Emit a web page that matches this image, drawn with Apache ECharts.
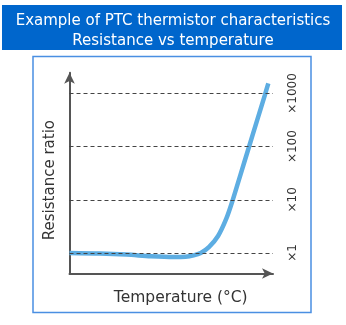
<!DOCTYPE html>
<html><head><meta charset="utf-8">
<script src="https://cdn.jsdelivr.net/npm/echarts@6/dist/echarts.min.js"></script>
<style>html,body{margin:0;padding:0;background:#fff}#c{width:346px;height:325px}</style>
</head><body><div id="c"></div>
<script>
// Temperature (arbitrary units 0-100) and log10 of resistance ratio
const temps = [0, 15, 28, 40, 51, 57, 61, 64.5, 68.5, 73, 77, 80, 84, 88, 92, 96, 97.7];
const logRatio = [0, -0.01, -0.03, -0.06, -0.075, -0.07, -0.045, 0, 0.11, 0.32, 0.64, 0.97, 1.47, 1.97, 2.47, 2.97, 3.19];
const gridLevels = [0, 1, 2, 3];
const tickLabels = ['×1', '×10', '×100', '×1000'];
const titleLines = ['Example of PTC thermistor characteristics', 'Resistance vs temperature'];
const xName = 'Temperature (°C)';
const yName = 'Resistance ratio';

const chart = echarts.init(document.getElementById('c'), null, {renderer: 'canvas'});
const font = 'DejaVu Sans';
const yMin = -0.385, yMax = 3.39;
chart.setOption({
  animation: false,
  graphic: [
    {type: 'rect', shape: {x: 2, y: 5, width: 340, height: 45}, style: {fill: '#0066CC'}, z: 0},
    {type: 'rect', shape: {x: 33, y: 56.5, width: 278, height: 256}, style: {fill: 'none', stroke: '#4A8FE2', lineWidth: 1.5}, z: 0}
  ],
  title: {
    text: titleLines.join('\n'),
    left: 'center', top: 6,
    textStyle: {color: '#fff', fontFamily: font, fontSize: 15, fontWeight: 'normal', lineHeight: 20}
  },
  grid: {left: 69.5, right: 73, top: 72.7, bottom: 51.5},
  xAxis: {
    type: 'value', min: 0, max: 100,
    name: xName, nameLocation: 'middle', nameGap: 16,
    nameTextStyle: {fontFamily: font, fontSize: 15.5, color: '#333', padding: [0, 0, 0, 19]},
    axisLine: {show: true, onZero: false, symbol: ['none', 'arrow'], symbolSize: [8, 11], lineStyle: {color: '#555', width: 2}},
    axisTick: {show: false}, axisLabel: {show: false}, splitLine: {show: false}
  },
  yAxis: [{
    type: 'value', min: yMin, max: yMax,
    name: yName, nameLocation: 'middle', nameGap: 12,
    nameTextStyle: {fontFamily: font, fontSize: 15, color: '#333', padding: [0, 14, 0, 0]},
    axisLine: {show: true, onZero: false, symbol: ['none', 'arrow'], symbolSize: [8, 11], lineStyle: {color: '#555', width: 2}},
    axisTick: {show: false}, axisLabel: {show: false}, splitLine: {show: false}
  }, {
    type: 'value', min: yMin, max: yMax, position: 'right',
    axisLine: {show: false}, axisTick: {show: false}, splitLine: {show: false},
    axisLabel: {
      customValues: gridLevels, rotate: 90, margin: 14,
      formatter: v => tickLabels[gridLevels.indexOf(Math.round(v))] || '',
      fontFamily: font, fontSize: 12, color: '#333'
    }
  }],
  series: [{
    type: 'line', smooth: 0.3, symbol: 'none', yAxisIndex: 0,
    data: temps.map((t, i) => [t, logRatio[i]]),
    lineStyle: {color: '#5DADE2', width: 4.5},
    markLine: {
      silent: true, symbol: 'none', label: {show: false},
      lineStyle: {color: '#444', type: [4, 3], width: 1},
      data: gridLevels.map(v => ({yAxis: v}))
    },
    z: 3
  }]
});
</script></body></html>
